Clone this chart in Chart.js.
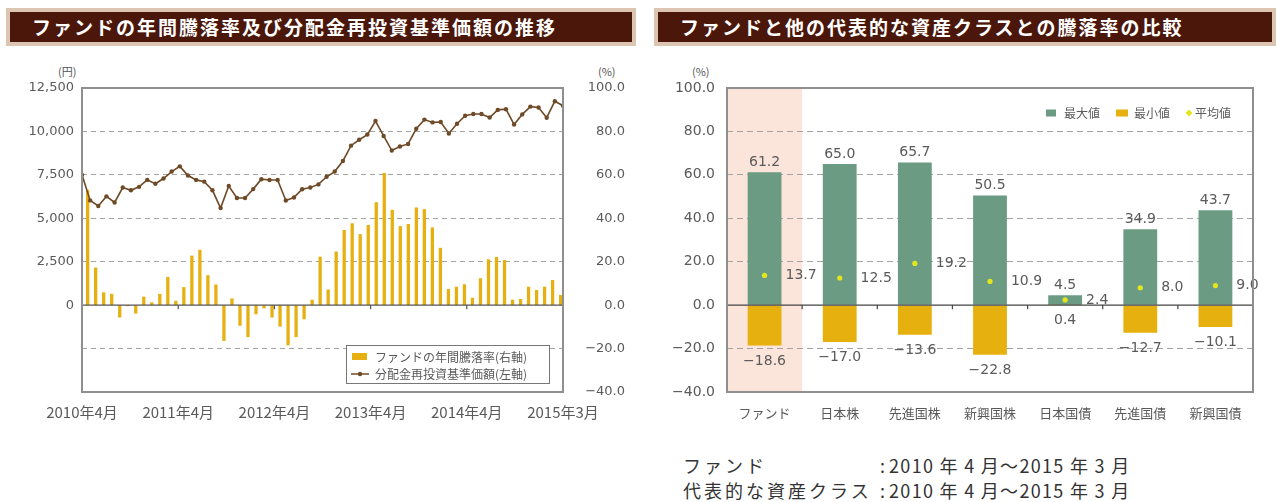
<!DOCTYPE html>
<html lang="ja">
<head>
<meta charset="utf-8">
<script src="https://cdn.jsdelivr.net/npm/chart.js@4.4.1/dist/chart.umd.min.js"></script>
<style>
  body { margin: 0; width: 1277px; height: 502px; background: #fff; position: relative; overflow: hidden; font-family: "Noto Sans CJK JP", sans-serif; }
  .head { position: absolute; top: 8px; height: 38px; background: #dcc6b2; }
  .head span { position: absolute; left: 4px; right: 4px; top: 4px; bottom: 4px; background: #4b170a; color: #fff; font-weight: bold; font-size: 19px; line-height: 30px; padding-left: 22px; letter-spacing: 2px; white-space: nowrap; }
  .box { position: absolute; }
  .unit { position: absolute; top: 63px; font-size: 11px; color: #555; }
  .note { position: absolute; left: 683px; font-size: 18px; line-height: 19px; color: #333; white-space: nowrap; }
  .note .k { display: inline-block; width: 197px; letter-spacing: 3px; }
  .note .d { letter-spacing: 1.3px; }
</style>
</head>
<body>
<div class="head" style="left:6px;width:630px"><span>ファンドの年間騰落率及び分配金再投資基準価額の推移</span></div>
<div class="head" style="left:654px;width:622px"><span>ファンドと他の代表的な資産クラスとの騰落率の比較</span></div>

<div class="unit" style="left:58px">(円)</div>
<div class="unit" style="left:598px">(%)</div>
<div class="unit" style="left:692px">(%)</div>

<div class="box" style="left:0;top:60px;width:625px;height:370px"><canvas id="navChart"></canvas></div>
<div class="box" style="left:655px;top:60px;width:620px;height:370px"><canvas id="cmpChart"></canvas></div>

<div class="note" style="top:456px"><span class="k">ファンド</span>: <span class="d">2010 年 4 月～2015 年 3 月</span></div>
<div class="note" style="top:481px"><span class="k">代表的な資産クラス</span>: <span class="d">2010 年 4 月～2015 年 3 月</span></div>

<script>
// 左: 2010年4月〜2015年3月 (60か月)
const xTickLabels = ['2010年4月', '2011年4月', '2012年4月', '2013年4月', '2014年4月', '2015年3月']
const fundReturn = [
  53.1, 17.3, 5.9, 5.2, -5.7, -0.5, -3.9, 3.9, 1.3, 5.2, 13.0, 2.0,
  8.3, 22.8, 25.5, 13.8, 9.5, -16.5, 3.1, -9.5, -14.7, -4.2, -1.5, -5.7,
  -9.9, -18.5, -14.7, -6.5, 2.5, 22.3, 7.2, 24.7, 34.6, 37.7, 32.7, 36.9,
  47.4, 60.9, 43.9, 36.4, 37.4, 45.0, 44.2, 35.8, 26.4, 7.4, 8.5, 9.6,
  3.4, 12.4, 21.1, 22.2, 20.8, 2.5, 2.8, 8.5, 7.0, 8.5, 11.6, 4.7
]
const navValues = [
  7500, 6030, 5710, 6260, 5910, 6770, 6610, 6810, 7210, 6990, 7290, 7690,
  7990, 7460, 7210, 7110, 6610, 5590, 6860, 6170, 6170, 6680, 7250, 7200,
  7200, 6020, 6200, 6670, 6770, 6950, 7390, 7690, 8300, 9180, 9520, 9820,
  10600, 9740, 8900, 9130, 9280, 10150, 10680, 10520, 10540, 9880, 10440, 10900,
  11000, 11000, 10800, 11240, 11280, 10400, 10980, 11430, 11380, 10790, 11740, 11480
]

// 右: 騰落率の比較
const assetClasses = ['ファンド', '日本株', '先進国株', '新興国株', '日本国債', '先進国債', '新興国債']
const maxValues = [61.2, 65.0, 65.7, 50.5, 4.5, 34.9, 43.7]
const minValues = [-18.6, -17.0, -13.6, -22.8, 0.4, -12.7, -10.1]
const meanValues = [13.7, 12.5, 19.2, 10.9, 2.4, 8.0, 9.0]

const NUM = '"DejaVu Sans", sans-serif'
const JP = '"Noto Sans CJK JP", sans-serif'
const TEXT = '#5a5a5a'
const GOLD = '#e6b011'
const BROWN = '#6f4a27'
const GREEN = '#6b9c83'

const pct = v => (v < 0 ? '−' : '') + Math.abs(v).toFixed(1)
const gridColor = (ctx, lo, hi) => {
  const v = ctx.tick.value
  return (v === 0 || v === lo || v === hi) ? 'rgba(0,0,0,0)' : '#a3a3a3'
}

const frame = (chart) => {
  const { ctx, chartArea: a } = chart
  ctx.save()
  ctx.strokeStyle = '#8f8f8f'
  ctx.lineWidth = 2
  ctx.strokeRect(a.left, a.top, a.right - a.left, a.bottom - a.top)
  ctx.restore()
}

const navDecor = {
  id: 'navDecor',
  afterDatasetsDraw(chart) {
    const { ctx, chartArea: a } = chart
    const y0 = chart.scales.yPct.getPixelForValue(0)
    ctx.save()
    ctx.strokeStyle = '#555'
    ctx.lineWidth = 1.2
    ctx.beginPath()
    ctx.moveTo(a.left, y0)
    ctx.lineTo(a.right, y0)
    for (let m = 12; m < 60; m += 12) {
      const x = chart.scales.x.getPixelForValue(m)
      ctx.moveTo(x, y0)
      ctx.lineTo(x, y0 + 4)
    }
    ctx.stroke()
    ctx.restore()
    frame(chart)

    // 凡例
    const bx = a.right - 217, by = a.bottom - 47
    ctx.save()
    ctx.fillStyle = '#fff'
    ctx.fillRect(bx, by, 203, 38)
    ctx.strokeStyle = '#777'
    ctx.lineWidth = 1
    ctx.strokeRect(bx + 0.5, by + 0.5, 203, 38)
    const ds = chart.data.datasets
    ctx.fillStyle = GOLD
    ctx.fillRect(bx + 6, by + 8, 15, 7)
    ctx.strokeStyle = BROWN
    ctx.lineWidth = 1.5
    ctx.beginPath()
    ctx.moveTo(bx + 5, by + 29)
    ctx.lineTo(bx + 23, by + 29)
    ctx.stroke()
    ctx.fillStyle = BROWN
    ctx.beginPath()
    ctx.arc(bx + 14, by + 29, 2.2, 0, Math.PI * 2)
    ctx.fill()
    ctx.fillStyle = TEXT
    ctx.font = '12px ' + JP
    ctx.textBaseline = 'middle'
    ctx.fillText(ds[1].label, bx + 29, by + 12)
    ctx.fillText(ds[0].label, bx + 29, by + 29)
    ctx.restore()
  }
}

new Chart(document.getElementById('navChart'), {
  type: 'bar',
  data: {
    datasets: [
      {
        type: 'line',
        label: '分配金再投資基準価額(左軸)',
        data: navValues.map((v, i) => ({ x: i, y: v })),
        xAxisID: 'xLine',
        yAxisID: 'yNav',
        borderColor: BROWN,
        backgroundColor: BROWN,
        borderWidth: 1.6,
        pointRadius: 2.2,
        pointBorderWidth: 0,
        order: 0
      },
      {
        label: 'ファンドの年間騰落率(右軸)',
        data: fundReturn.map((v, i) => ({ x: i + 0.5, y: v })),
        xAxisID: 'x',
        yAxisID: 'yPct',
        backgroundColor: GOLD,
        categoryPercentage: 0.82,
        barPercentage: 1,
        order: 1
      }
    ]
  },
  options: {
    responsive: true,
    maintainAspectRatio: false,
    animation: false,
    layout: { padding: { top: 28, left: 0, right: 0, bottom: 0 } },
    plugins: { legend: { display: false }, tooltip: { enabled: false } },
    scales: {
      x: {
        type: 'linear', min: 0, max: 60, offset: false,
        grid: { display: false, drawTicks: false, offset: false },
        border: { display: false },
        ticks: {
          stepSize: 12, autoSkip: false, maxRotation: 0, padding: 11,
          color: TEXT, font: { size: 15, family: JP },
          callback: v => xTickLabels[v / 12]
        },
        afterFit: s => { s.height = 38 }
      },
      xLine: {
        type: 'linear', min: 0, max: 59, display: false, offset: false,
        grid: { offset: false }
      },
      yNav: {
        position: 'left', min: -5000, max: 12500,
        ticks: {
          stepSize: 2500, padding: 8, color: TEXT, font: { size: 13, family: NUM },
          callback: v => v >= 0 ? v.toLocaleString('en-US') : ''
        },
        grid: { drawTicks: false, color: ctx => gridColor(ctx, -5000, 12500) },
        border: { display: false, dash: [5, 4] },
        afterFit: s => { s.width = 82 }
      },
      yPct: {
        position: 'right', min: -40, max: 100,
        ticks: {
          stepSize: 20, padding: 0, crossAlign: 'far', color: TEXT,
          font: { size: 13, family: NUM }, callback: v => pct(v)
        },
        grid: { display: false, drawTicks: false },
        border: { display: false },
        afterFit: s => { s.width = 62 }
      }
    }
  },
  plugins: [navDecor]
})

const cmpDecor = {
  id: 'cmpDecor',
  beforeDraw(chart) {
    const { ctx, chartArea: a } = chart
    const x = chart.scales.x
    const half = (x.getPixelForValue(1) - x.getPixelForValue(0)) / 2
    ctx.save()
    ctx.fillStyle = '#fbe4da'
    ctx.fillRect(x.getPixelForValue(0) - half, a.top, half * 2, a.bottom - a.top)
    ctx.restore()
  },
  afterDatasetsDraw(chart) {
    const { ctx, chartArea: a } = chart
    const xs = chart.scales.x
    const y0 = chart.scales.y.getPixelForValue(0)
    const half = (xs.getPixelForValue(1) - xs.getPixelForValue(0)) / 2
    ctx.save()
    ctx.strokeStyle = '#444'
    ctx.lineWidth = 1.2
    ctx.beginPath()
    ctx.moveTo(a.left, y0)
    ctx.lineTo(a.right, y0)
    for (let i = 0; i < assetClasses.length - 1; i++) {
      const x = xs.getPixelForValue(i) + half
      ctx.moveTo(x, y0)
      ctx.lineTo(x, y0 + 4)
    }
    ctx.stroke()

    // 数値ラベル
    const maxMeta = chart.getDatasetMeta(0)
    const minMeta = chart.getDatasetMeta(1)
    const meanMeta = chart.getDatasetMeta(2)
    ctx.fillStyle = TEXT
    ctx.font = '14px ' + NUM
    ctx.textBaseline = 'alphabetic'
    maxMeta.data.forEach((bar, i) => {
      ctx.textAlign = 'center'
      ctx.fillText(maxValues[i].toFixed(1), bar.x, bar.y - 6)
      const mb = minMeta.data[i]
      ctx.fillText(pct(minValues[i]), mb.x, Math.max(mb.y, mb.base) + 19)
      ctx.textAlign = 'left'
      ctx.textBaseline = 'middle'
      ctx.fillText(meanValues[i].toFixed(1), bar.x + bar.width / 2 + 4, meanMeta.data[i].y)
      ctx.textBaseline = 'alphabetic'
    })
    ctx.restore()

    // 凡例
    const ds = chart.data.datasets
    const ly = a.top + 25
    ctx.save()
    ctx.font = '12px ' + JP
    ctx.textBaseline = 'middle'
    ctx.fillStyle = ds[0].backgroundColor
    ctx.fillRect(a.right - 207, ly - 3.5, 10, 7)
    ctx.fillStyle = ds[1].backgroundColor
    ctx.fillRect(a.right - 137, ly - 3.5, 12, 7)
    ctx.fillStyle = ds[2].pointBackgroundColor
    ctx.beginPath()
    ctx.moveTo(a.right - 64, ly - 3.5)
    ctx.lineTo(a.right - 60.5, ly)
    ctx.lineTo(a.right - 64, ly + 3.5)
    ctx.lineTo(a.right - 67.5, ly)
    ctx.closePath()
    ctx.fill()
    ctx.fillStyle = TEXT
    ctx.fillText(ds[0].label, a.right - 189, ly)
    ctx.fillText(ds[1].label, a.right - 119, ly)
    ctx.fillText(ds[2].label, a.right - 58, ly)
    ctx.restore()
    frame(chart)
  }
}

new Chart(document.getElementById('cmpChart'), {
  type: 'bar',
  data: {
    labels: assetClasses,
    datasets: [
      { label: '最大値', data: maxValues.map(v => [0, v]), backgroundColor: GREEN, order: 2 },
      { label: '最小値', data: minValues.map(v => [0, v]), backgroundColor: '#e6b00f', order: 3 },
      {
        type: 'line', label: '平均値', data: meanValues, showLine: false,
        pointRadius: 2.6, pointBorderWidth: 0,
        pointBackgroundColor: '#e4e61c', backgroundColor: '#e4e61c', order: 1
      }
    ]
  },
  options: {
    responsive: true,
    maintainAspectRatio: false,
    animation: false,
    datasets: { bar: { grouped: false, categoryPercentage: 1, barPercentage: 0.45 } },
    layout: { padding: { top: 28, left: 0, right: 22, bottom: 0 } },
    plugins: { legend: { display: false }, tooltip: { enabled: false } },
    scales: {
      x: {
        grid: { display: false, drawTicks: false },
        border: { display: false },
        ticks: { padding: 13, color: TEXT, font: { size: 13, family: JP }, maxRotation: 0 },
        afterFit: s => { s.height = 38 }
      },
      y: {
        min: -40, max: 100,
        ticks: { stepSize: 20, padding: 12, color: TEXT, font: { size: 14, family: NUM }, callback: v => pct(v) },
        grid: { drawTicks: false, color: ctx => gridColor(ctx, -40, 100) },
        border: { display: false, dash: [6, 4] },
        afterFit: s => { s.width = 72 }
      }
    }
  },
  plugins: [cmpDecor]
})
</script>
</body>
</html>
